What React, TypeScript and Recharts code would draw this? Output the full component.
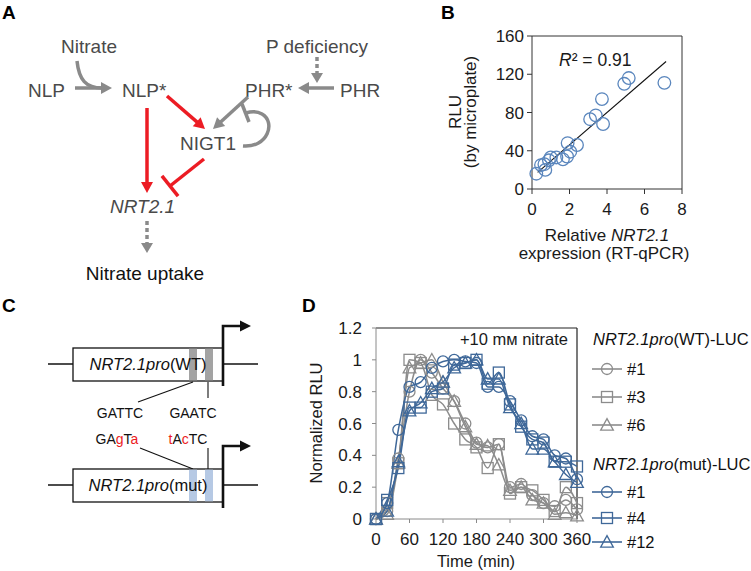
import React from 'react';
import { ScatterChart, Scatter, XAxis, YAxis, ReferenceLine, LineChart, Line } from 'recharts';

const FONT = '"Liberation Sans", Arial, Helvetica, sans-serif';

// ---------- Panel B data ----------
const bExpression = [0.23, 0.48, 0.66, 0.71, 0.9, 1.0, 1.3, 1.65, 1.87, 1.9, 2.04, 2.4, 3.1, 3.4, 3.73, 3.79, 4.92, 5.16, 7.06];
const bRLU = [16, 25, 26, 20, 30, 33, 33, 31, 34, 48, 39, 46, 73, 77, 94, 68, 110, 116, 111];
const bXTicks = [0, 2, 4, 6, 8];
const bYTicks = [0, 40, 80, 120, 160];
const bTrend = [{ x: 0.3, y: 17.3 }, { x: 7.15, y: 133.3 }];
const bR2 = '0.91';

// ---------- Panel D data ----------
const dTimes = [0, 20, 40, 60, 80, 100, 120, 140, 160, 180, 200, 220, 240, 260, 280, 300, 320, 340, 360];
const wt1 = [0, 0.05, 0.38, 0.8, 1.0, 0.92, 0.82, 0.74, 0.6, 0.48, 0.45, 0.47, 0.2, 0.22, 0.15, 0.1, 0.08, 0.12, 0.06];
const wt3 = [0, 0.1, 0.35, 1.0, 0.98, 0.78, 0.72, 0.6, 0.5, 0.45, 0.32, 0.47, 0.16, 0.2, 0.18, 0.12, 0.05, 0.2, 0.1];
const wt6 = [0, 0.03, 0.35, 0.95, 0.98, 1.0, 0.86, 0.74, 0.58, 0.47, 0.46, 0.34, 0.18, 0.2, 0.12, 0.1, 0.03, 0.04, 0.02];
const mut1 = [0, 0.1, 0.56, 0.83, 0.86, 0.95, 0.99, 1.0, 0.99, 0.98, 0.83, 0.83, 0.74, 0.62, 0.52, 0.5, 0.4, 0.38, 0.25];
const mut4 = [0, 0.12, 0.32, 0.7, 0.7, 0.8, 0.82, 0.97, 0.98, 1.0, 0.85, 0.92, 0.72, 0.58, 0.5, 0.48, 0.36, 0.36, 0.33];
const mut12 = [0, 0.05, 0.36, 0.68, 0.73, 0.82, 0.86, 0.95, 0.98, 1.0, 0.88, 0.88, 0.7, 0.6, 0.44, 0.44, 0.36, 0.28, 0.23];
const dXTicks = [0, 60, 120, 180, 240, 300, 360];
const dYTicks = [0, 0.2, 0.4, 0.6, 0.8, 1, 1.2];
const wtLineNames = ['#1', '#3', '#6'];
const mutLineNames = ['#1', '#4', '#12'];

const GRAY = '#8c8c8c';
const BLUE = '#3f6899';
const RED = '#ec1c24';
const AGRAY = '#8a8a8a';
const TGRAY = '#4a4a4a';

const bData = bExpression.map((x, i) => ({ x, y: bRLU[i] }));

const dSeries = [
  { key: 'wt1', values: wt1, shape: 'circle', color: GRAY },
  { key: 'wt3', values: wt3, shape: 'square', color: GRAY },
  { key: 'wt6', values: wt6, shape: 'triangle', color: GRAY },
  { key: 'mut1', values: mut1, shape: 'circle', color: BLUE },
  { key: 'mut4', values: mut4, shape: 'square', color: BLUE },
  { key: 'mut12', values: mut12, shape: 'triangle', color: BLUE },
];

const dData = dTimes.map((t, i) => {
  const row: any = { t };
  dSeries.forEach((s) => (row[s.key] = s.values[i]));
  return row;
});

function Marker({ cx, cy, shape, color, r = 5.5 }: any) {
  if (cx == null || cy == null) return null;
  if (shape === 'circle') return <circle cx={cx} cy={cy} r={r} fill="none" stroke={color} strokeWidth={1.3} />;
  if (shape === 'square')
    return <rect x={cx - r} y={cy - r} width={2 * r} height={2 * r} fill="none" stroke={color} strokeWidth={1.3} />;
  const h = r * 1.15;
  return (
    <polygon
      points={`${cx},${cy - h} ${cx + h},${cy + h * 0.8} ${cx - h},${cy + h * 0.8}`}
      fill="none"
      stroke={color}
      strokeWidth={1.3}
    />
  );
}

function Arrow({ x1, y1, x2, y2, color, w = 3.5, hl = 11, hw = 12, dash }: any) {
  const dx = x2 - x1, dy = y2 - y1, L = Math.hypot(dx, dy);
  const ux = dx / L, uy = dy / L;
  const bx = x2 - ux * hl, by = y2 - uy * hl;
  const px = -uy, py = ux;
  return (
    <g>
      <line x1={x1} y1={y1} x2={bx + ux} y2={by + uy} stroke={color} strokeWidth={w} strokeDasharray={dash} />
      <polygon points={`${x2},${y2} ${bx + (px * hw) / 2},${by + (py * hw) / 2} ${bx - (px * hw) / 2},${by - (py * hw) / 2}`} fill={color} />
    </g>
  );
}

function Inhibit({ x1, y1, x2, y2, color, w = 3.5, bar = 24 }: any) {
  const dx = x2 - x1, dy = y2 - y1, L = Math.hypot(dx, dy);
  const px = -dy / L, py = dx / L;
  return (
    <g>
      <line x1={x1} y1={y1} x2={x2} y2={y2} stroke={color} strokeWidth={w} />
      <line x1={x2 + (px * bar) / 2} y1={y2 + (py * bar) / 2} x2={x2 - (px * bar) / 2} y2={y2 - (py * bar) / 2} stroke={color} strokeWidth={w} />
    </g>
  );
}

function PanelA() {
  const fs = 19;
  return (
    <g fontFamily={FONT} fontSize={fs} fill={TGRAY}>
      <text x={77} y={53} textAnchor="middle" fill={TGRAY} dx={12}>Nitrate</text>
      <text x={317} y={53} textAnchor="middle" fill={TGRAY}>P deficiency</text>
      <text x={28} y={97} fill={TGRAY}>NLP</text>
      <text x={122} y={97} fill={TGRAY}>NLP*</text>
      <text x={245} y={97} fill={TGRAY}>PHR*</text>
      <text x={340} y={97} fill={TGRAY}>PHR</text>
      <text x={180} y={150} fill={TGRAY}>NIGT1</text>
      <text x={110} y={213} fill={TGRAY} fontStyle="italic">NRT2.1</text>
      <text x={145} y={280} textAnchor="middle" fill="#111">Nitrate uptake</text>
      {/* NLP -> NLP* */}
      <Arrow x1={75} y1={88} x2={112} y2={88} color={AGRAY} />
      <path d="M77,61 C79,80 86,88 102,88" fill="none" stroke={AGRAY} strokeWidth={3.5} />
      {/* P deficiency dotted */}
      <Arrow x1={317} y1={57} x2={317} y2={83} color={AGRAY} dash="4 3" hl={10} />
      {/* PHR -> PHR* */}
      <Arrow x1={334} y1={88} x2={298} y2={88} color={AGRAY} />
      {/* NLP* -> NIGT1 */}
      <Arrow x1={167} y1={96} x2={205} y2={129} color={RED} />
      {/* PHR* -> NIGT1 */}
      <Arrow x1={248} y1={97} x2={213} y2={129} color={AGRAY} />
      {/* NLP* -> NRT2.1 */}
      <Arrow x1={147} y1={108} x2={147} y2={193} color={RED} />
      {/* NIGT1 -| NRT2.1 */}
      <Inhibit x1={204} y1={159} x2={170} y2={186} color={RED} bar={26} />
      {/* self loop */}
      <path d="M243,146 C268,148 276,122 262,114 C257,111 252,111 246,113" fill="none" stroke={AGRAY} strokeWidth={3.5} />
      <line x1={242} y1={104} x2={249} y2={122} stroke={AGRAY} strokeWidth={3.5} />
      {/* NRT2.1 -> uptake dotted */}
      <Arrow x1={147} y1={221} x2={147} y2={253} color={AGRAY} dash="4 3" hl={10} />
    </g>
  );
}

function PanelC() {
  const fs = 14;
  const box = (y: number, barColor: string, label: string) => (
    <g>
      <line x1={48} y1={y + 16} x2={258} y2={y + 16} stroke="#111" strokeWidth={1.3} />
      <rect x={73} y={y} width={150} height={33} fill="#fff" stroke="#111" strokeWidth={1.3} />
      <rect x={189} y={y + 0.7} width={8} height={31.6} fill={barColor} />
      <rect x={205} y={y + 0.7} width={8} height={31.6} fill={barColor} />
      <text x={148} y={y + 22} textAnchor="middle" fontSize={16.5} fill="#111">
        <tspan fontStyle="italic">NRT2.1pro</tspan>
        <tspan>{label}</tspan>
      </text>
    </g>
  );
  return (
    <g fontFamily={FONT}>
      {box(348, '#a3a3a3', '(WT)')}
      <path d="M223,386 L223,326 L240,326" fill="none" stroke="#111" strokeWidth={2.6} />
      <polygon points="251,326 240,320.5 240,331.5" fill="#111" />
      <line x1={193} y1={382} x2={138} y2={402} stroke="#111" strokeWidth={1.1} />
      <line x1={208} y1={382} x2={208} y2={398} stroke="#111" strokeWidth={1.1} />
      <text x={120} y={418} textAnchor="middle" fontSize={fs} fill="#111">GATTC</text>
      <text x={193} y={418} textAnchor="middle" fontSize={fs} fill="#111">GAATC</text>
      <text x={117} y={444} textAnchor="middle" fontSize={fs} fill="#111">
        GA<tspan fill={RED}>g</tspan>T<tspan fill={RED}>a</tspan>
      </text>
      <text x={188} y={444} textAnchor="middle" fontSize={fs} fill="#111">
        <tspan fill={RED}>t</tspan>A<tspan fill={RED}>c</tspan>TC
      </text>
      <line x1={140} y1={448} x2={193} y2={469} stroke="#111" strokeWidth={1.1} />
      <line x1={208} y1={448} x2={208} y2={469} stroke="#111" strokeWidth={1.1} />
      {box(469, '#b6c9e4', '(mut)')}
      <path d="M223,508 L223,446 L240,446" fill="none" stroke="#111" strokeWidth={2.6} />
      <polygon points="251,446 240,440.5 240,451.5" fill="#111" />
    </g>
  );
}

function LegendD() {
  const fs = 16.5;
  const x0 = 592, x1 = 622;
  const wtY = [369, 397, 425];
  const mutY = [492, 518, 542];
  const shapes = ['circle', 'square', 'triangle'];
  const item = (y: number, name: string, shape: string, color: string, k: string) => (
    <g key={k}>
      <line x1={x0} y1={y} x2={x1} y2={y} stroke={color} strokeWidth={1.6} />
      <Marker cx={(x0 + x1) / 2} cy={y} shape={shape} color={color} />
      <text x={627} y={y + 6} fontSize={fs} fill="#111">{name}</text>
    </g>
  );
  return (
    <g fontFamily={FONT}>
      <text x={593} y={345} fontSize={fs} fill="#111">
        <tspan fontStyle="italic">NRT2.1pro</tspan>(WT)-LUC
      </text>
      {wtLineNames.map((n, i) => item(wtY[i], n, shapes[i], GRAY, 'w' + i))}
      <text x={593} y={470} fontSize={fs} fill="#111">
        <tspan fontStyle="italic">NRT2.1pro</tspan>(mut)-LUC
      </text>
      {mutLineNames.map((n, i) => item(mutY[i], n, shapes[i], BLUE, 'm' + i))}
    </g>
  );
}

export default function App() {
  const tickB = { fontSize: 17, fill: '#1a1a1a', fontFamily: FONT };
  const tickD = { fontSize: 17, fill: '#1a1a1a', fontFamily: FONT };
  return (
    <div style={{ position: 'absolute', left: 0, top: 0, width: 751, height: 571, background: '#fff', fontFamily: FONT }}>
      {/* Panel B */}
      <div style={{ position: 'absolute', left: 400, top: 0 }}>
        <ScatterChart width={351} height={290} margin={{ top: 36, right: 69, bottom: 0, left: 0 }}>
          <XAxis
            type="number"
            dataKey="x"
            domain={[0, 8]}
            ticks={bXTicks}
            height={101}
            tickSize={5}
            tickMargin={9}
            tick={tickB}
            stroke="#333"
            interval={0}
          />
          <YAxis
            type="number"
            dataKey="y"
            domain={[0, 160]}
            ticks={bYTicks}
            width={132}
            tickSize={5}
            tickMargin={3}
            tick={tickB}
            stroke="#333"
            interval={0}
          />
          <ReferenceLine y={160} stroke="#333" strokeWidth={1} />
          <ReferenceLine x={8} stroke="#333" strokeWidth={1} />
          <Scatter
            data={bData}
            isAnimationActive={false}
            shape={(p: any) => <circle cx={p.cx} cy={p.cy} r={6.3} fill="none" stroke="#5a86bd" strokeWidth={1.3} />}
          />
          <ReferenceLine segment={bTrend} stroke="#111" strokeWidth={1.1} />
        </ScatterChart>
      </div>

      {/* Panel D */}
      <div style={{ position: 'absolute', left: 290, top: 280 }}>
        <LineChart width={461} height={291} data={dData} margin={{ top: 48, right: 174, bottom: 0, left: 0 }}>
          <XAxis
            type="number"
            dataKey="t"
            domain={[0, 360]}
            ticks={dXTicks}
            height={52}
            tickSize={4}
            tickMargin={10}
            tick={tickD}
            stroke="#8a8a8a"
            interval={0}
          />
          <YAxis
            type="number"
            domain={[0, 1.2]}
            ticks={dYTicks}
            width={86}
            tickSize={4}
            tickMargin={10}
            tick={tickD}
            stroke="#8a8a8a"
            interval={0}
          />
          <ReferenceLine y={1.2} stroke="#222" strokeWidth={1.2} />
          <ReferenceLine x={360} stroke="#222" strokeWidth={1.2} />
          {dSeries.map((s) => (
            <Line
              key={s.key}
              dataKey={s.key}
              type="monotone"
              stroke={s.color}
              strokeWidth={1.5}
              isAnimationActive={false}
              dot={(p: any) => <Marker key={`${s.key}-${p.index}`} cx={p.cx} cy={p.cy} shape={s.shape} color={s.color} />}
              activeDot={false}
            />
          ))}
        </LineChart>
      </div>

      {/* Overlay: diagrams, titles, legend */}
      <svg width={751} height={571} style={{ position: 'absolute', left: 0, top: 0, pointerEvents: 'none' }}>
        <g fontFamily={FONT} fontWeight="bold" fontSize={19} fill="#000">
          <text x={2} y={19}>A</text>
          <text x={441} y={19}>B</text>
          <text x={2} y={312}>C</text>
          <text x={302} y={312}>D</text>
        </g>
        <PanelA />
        <PanelC />
        {/* Panel B titles */}
        <g fontFamily={FONT} fontSize={17} fill="#1a1a1a">
          <text x={559} y={66} fontSize={17.5}>
            <tspan fontStyle="italic">R</tspan>² = {bR2}
          </text>
          <text transform="translate(461,112) rotate(-90)" textAnchor="middle">RLU</text>
          <text transform="translate(476,112) rotate(-90)" textAnchor="middle">(by microplate)</text>
          <text x={607} y={241} textAnchor="middle">
            Relative <tspan fontStyle="italic">NRT2.1</tspan>
          </text>
          <text x={604} y={259} textAnchor="middle">expression (RT-qPCR)</text>
        </g>
        {/* Panel D titles */}
        <g fontFamily={FONT} fontSize={16.5} fill="#1a1a1a">
          <text x={568} y={345} textAnchor="end">+10 mᴍ nitrate</text>
          <text transform="translate(322,423) rotate(-90)" textAnchor="middle">Normalized RLU</text>
          <text x={476} y={567} textAnchor="middle">Time (min)</text>
        </g>
        <LegendD />
      </svg>
    </div>
  );
}
